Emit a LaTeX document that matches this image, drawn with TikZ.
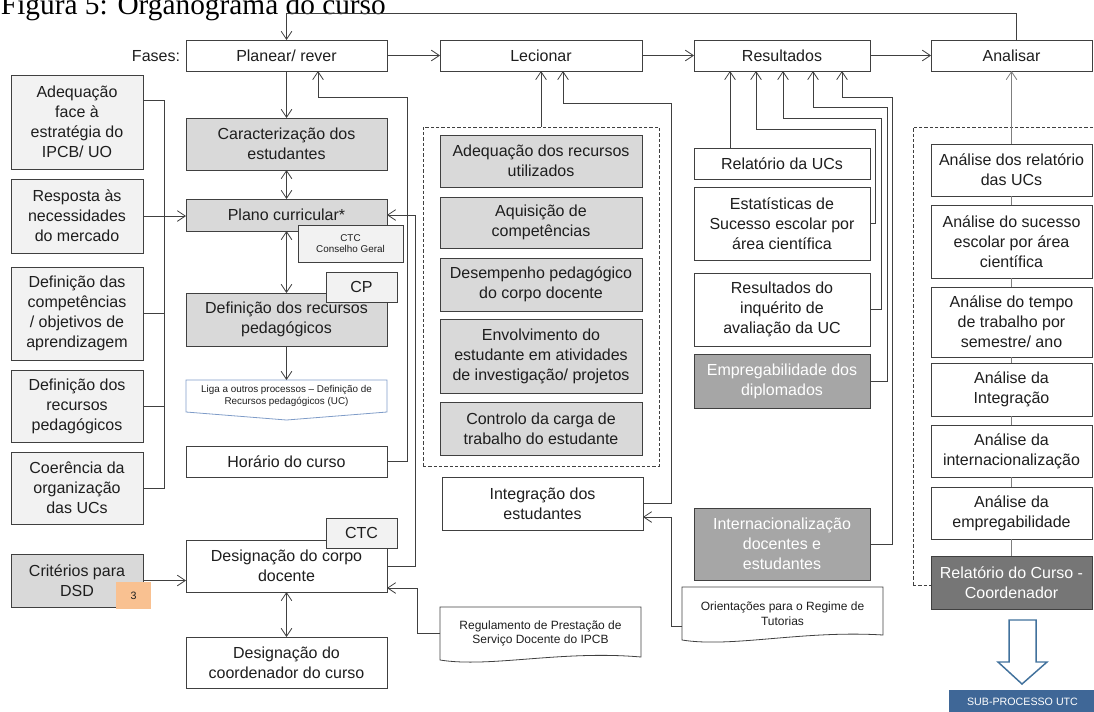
\documentclass[tikz,border=0pt]{standalone}
\usepackage{fontspec}
\setmainfont{Liberation Sans}
\newfontfamily\titlefont{Liberation Serif}
\usetikzlibrary{positioning,arrows.meta,calc}

\definecolor{lineC}{HTML}{404040}
\definecolor{lineG}{HTML}{7F7F7F}
\definecolor{txt}{HTML}{1E1E1E}
\definecolor{greyM}{HTML}{D9D9D9}
\definecolor{greyL}{HTML}{F2F2F2}
\definecolor{greyD}{HTML}{A6A6A6}
\definecolor{greyX}{HTML}{767676}
\definecolor{tagfill}{HTML}{F9C191}
\definecolor{ligaedge}{HTML}{7F9CC8}
\definecolor{utcblue}{HTML}{3F6797}
\definecolor{arrowblue}{HTML}{41719C}

\begin{document}
\begin{tikzpicture}[
  x=0.75pt, y=-0.75pt,
  font=\fontsize{12}{15}\selectfont,
  every node/.style={inner sep=0pt, outer sep=0pt, align=center, text=txt},
  sz/.style 2 args={minimum width=#1*0.75pt, minimum height=#2*0.75pt},
  box/.style={draw=lineC, fill=white, line width=0.7pt},
  gbox/.style={box, fill=greyM},
  lbox/.style={box, fill=greyL},
  dbox/.style={box, fill=greyD, text=white},
  grp/.style={draw=lineC, line width=0.6pt, dash pattern=on 2.5pt off 1.5pt},
  small/.style={font=\fontsize{7.4}{8.8}\selectfont},
  note/.style={font=\fontsize{9}{11}\selectfont},
  link/.style={line width=0.6pt, draw=lineC},
  arr/.style={link, -{Straight Barb[length=6pt,width=8pt]}},
  darr/.style={link, {Straight Barb[length=6pt,width=8pt]}-{Straight Barb[length=6pt,width=8pt]}}
]
\useasboundingbox (0,0) rectangle (1094,711);

\node[anchor=base west, font=\titlefont\fontsize{22}{24}\selectfont, text=black] (title) at (1,14) {Figura 5: Organograma do curso};

% fases
\node[anchor=east] (fases) at (180,56) {Fases:};
\node[box, sz={201}{31}] (plan) at (286.5,55.5) {Planear/ rever};
\node[box, sz={202}{31}] (lec) at (541,55.5) {Lecionar};
\node[box, sz={176}{31}] (res) at (782,55.5) {Resultados};
\node[box, sz={161}{31}] (ana) at (1011.5,55.5) {Analisar};

\draw[arr] (plan) -- (lec);
\draw[arr] (lec) -- (res);
\draw[arr] (res) -- (ana);
\draw[arr] ($(ana.north)+(4.5,0)$) -- ++(0,-27) -| (plan.north);

% entradas
\node[lbox, sz={132}{94}] (adeq) at (77,122) {Adequação\\face à\\estratégia do\\IPCB/ UO};
\node[lbox, sz={132}{74}] (resp) at (77,216) {Resposta às\\necessidades\\do mercado};
\node[lbox, sz={132}{93}] (defcomp) at (77,313.5) {Definição das\\competências\\/ objetivos de\\aprendizagem};
\node[lbox, sz={132}{72}] (defrecl) at (77,406) {Definição dos\\recursos\\pedagógicos};
\node[lbox, sz={132}{72}] (coer) at (77,488) {Coerência da\\organização\\das UCs};
\node[gbox, sz={132}{53}] (crit) at (77,580.5) {Critérios para\\DSD};

\draw[link] ($(adeq.north east)+(0,25)$) -| (164,488) -- (coer.east);
\draw[link] (defcomp.east) -- (defcomp.east -| 164,0);
\draw[link] (defrecl.east) -- (defrecl.east -| 164,0);
\draw[arr] (resp.east) -- (resp.east -| 186,0);

% planear
\node[gbox, sz={201}{52}] (carac) at (286.5,144) {Caracterização dos\\estudantes};
\node[gbox, sz={201}{32}] (plano) at (286.5,215) {Plano curricular*};
\node[lbox, small, sz={105}{37}] (ctccg) at (350.5,243.5) {CTC\\Conselho Geral};
\node[gbox, sz={201}{53}] (defrec) at (286.5,319.5) {Definição dos recursos\\pedagógicos};
\node[lbox, sz={71}{30}] (cp) at (361.5,287) {CP};
\node[small, sz={201}{32}] (liga) at (286.5,396) {Liga a outros processos – Definição de\\Recursos pedagógicos (UC)};
\draw[draw=ligaedge, line width=0.6pt] (liga.north west) -- (liga.north east) -- (liga.south east)
  -- ($(liga.south)+(0,8)$) -- (liga.south west) -- cycle;
\node[box, sz={201}{31}] (hor) at (286.5,461.5) {Horário do curso};
\node[box, sz={201}{52}] (desig) at (286.5,566) {Designação do corpo\\docente};
\node[lbox, sz={71}{30}] (ctc) at (361.5,533) {CTC};
\node[box, sz={201}{51}] (coord) at (286.5,662.5) {Designação do\\coordenador do curso};

\draw[arr] (plan) -- (carac);
\draw[darr] (carac) -- (plano);
\draw[darr] (plano.south) -- (defrec.north);
\draw[arr] (defrec) -- (liga);
\draw[darr] (desig) -- (coord);
\draw[arr] (hor.east) -| (407,97) -| ($(plan.south)+(31.5,0)$);
\draw[arr] (desig.east) -| (415,215) -- (plano.east);
\draw[arr] (crit.east) -- (crit.east -| desig.west);
\node[fill=tagfill, sz={35}{27}, font=\fontsize{8}{9}\selectfont] (tag) at (133.5,595.5) {3};

% lecionar
\node[grp, sz={236}{339}] (lecgrp) at (541,296.5) {};
\node[gbox, sz={202}{52}] (adrec) at (541,161) {Adequação dos recursos\\utilizados};
\node[gbox, sz={202}{51}] (aquis) at (541,222.5) {Aquisição de\\competências};
\node[gbox, sz={202}{53}] (desemp) at (541,284.5) {Desempenho pedagógico\\do corpo docente};
\node[gbox, sz={202}{74}] (envol) at (541,356) {Envolvimento do\\estudante em atividades\\de investigação/ projetos};
\node[gbox, sz={202}{53}] (contr) at (541,428.5) {Controlo da carga de\\trabalho do estudante};
\node[box, sz={201}{53}] (integ) at (542.5,503.5) {Integração dos\\estudantes};
\node[note, sz={201}{53}] (regul) at (540.5,633.5) {Regulamento de Prestação de\\Serviço Docente do IPCB};
\draw[link] (regul.south west) .. controls ($(regul.south west)+(50,8)$) and ($(regul.south east)+(-80,-10)$) .. ($(regul.south east)+(0,-3)$)
  -- (regul.north east) -- (regul.north west) -- cycle;

\draw[arr] (lecgrp) -- (lec);
\draw[arr] (integ.east) -| (671,103) -| ($(lec.south)+(22,0)$);
\draw[arr] (regul.west) -| (417,588) -- ($(desig.east)+(0,22)$);

% resultados
\node[box, sz={176}{31}] (relucs) at (782,163.5) {Relatório da UCs};
\node[box, sz={176}{73}] (estat) at (782,223.5) {Estatísticas de\\Sucesso escolar por\\área científica};
\node[box, sz={176}{73}] (inq) at (782,309.5) {Resultados do\\inquérito de\\avaliação da UC};
\node[dbox, sz={176}{54}] (empreg) at (782,381) {Empregabilidade dos\\diplomados};
\node[dbox, sz={176}{72}] (intern) at (782,544) {Internacionalização\\docentes e\\estudantes};
\node[note, sz={201}{53}] (orient) at (782.5,613.5) {Orientações para o Regime de\\Tutorias};
\draw[link] (orient.south west) .. controls ($(orient.south west)+(50,8)$) and ($(orient.south east)+(-80,-10)$) .. ($(orient.south east)+(0,-5)$)
  -- (orient.north east) -- (orient.north west) -- cycle;

\draw[arr] ($(relucs.north)+(-52,0)$) -- ($(res.south)+(-52,0)$);
\draw[arr] (estat.east) -| (875,129) -| ($(res.south)+(-26,0)$);
\draw[arr] (inq.east) -| (881,118) -| ($(res.south)+(1,0)$);
\draw[arr] (empreg.east) -| (887,107) -| ($(res.south)+(31,0)$);
\draw[arr] (intern.east) -| (892,97) -| ($(res.south)+(60,0)$);
\draw[arr] ($(orient.west)+(0,12.5)$) -| (671,517) -- ($(integ.east)+(0,13.5)$);

% analisar
\node[grp, sz={197}{458}] (anagrp) at (1011.5,356) {};
\node[box, sz={161}{52}] (a1) at (1011.5,170) {Análise dos relatório\\das UCs};
\node[box, sz={161}{73}] (a2) at (1011.5,241.5) {Análise do sucesso\\escolar por área\\científica};
\node[box, sz={161}{70}] (a3) at (1011.5,322) {Análise do tempo\\de trabalho por\\semestre/ ano};
\node[box, sz={161}{53}] (a4) at (1011.5,389.5) {Análise da\\Integração};
\node[box, sz={161}{52}] (a5) at (1011.5,451) {Análise da\\internacionalização};
\node[box, sz={161}{52}] (a6) at (1011.5,513) {Análise da\\empregabilidade};
\node[box, fill=greyX, text=white, sz={161}{53}] (relc) at (1011.5,582.5) {Relatório do Curso -\\Coordenador};

\draw[arr, draw=lineG] (a1) -- (ana);
\foreach \u/\v in {a1/a2,a2/a3,a3/a4,a4/a5,a5/a6,a6/relc}
  \draw[link, draw=lineG] (\u) -- (\v);

\draw[draw=arrowblue, line width=1.1pt, fill=white, shift={(relc.south)}]
  (-2.5,11) -- (24.5,11) -- (24.5,53) -- (35.5,53) -- (10.5,75) -- (-13.5,53) -- (-2.5,53) -- cycle;
\node[fill=utcblue, text=white, sz={147}{24}, font=\fontsize{8}{9}\selectfont] (subp) at (1022.5,702) {SUB-PROCESSO UTC};
\end{tikzpicture}
\end{document}
